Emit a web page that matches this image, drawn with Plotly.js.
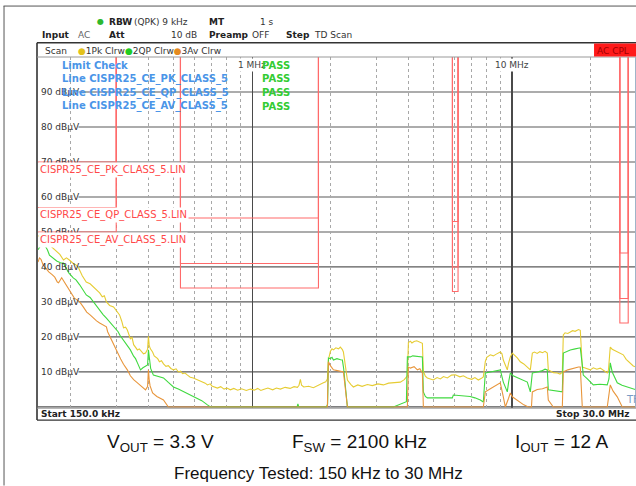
<!DOCTYPE html>
<html><head><meta charset="utf-8">
<script src="https://cdn.plot.ly/plotly-3.0.1.min.js"></script>
<style>html,body{margin:0;padding:0;background:#fff}#chart{width:636px;height:486px}</style>
</head><body><div id="chart"></div>
<script>
// ---- data (frequency in kHz, level in dBµV) ----
const pkTrace = [[150,49],[155,48.2],[158,47.4],[162,47.8],[166,46.3],[171,45.5],[177,44.3],[182,43.6],[188,42],[193,42.6],[198,42],[205,41],[210,40.6],[215,39.7],[222,37.5],[230,35.7],[238,35.2],[245,34.3],[252,33.3],[259,32.6],[265,31.5],[270,31.8],[275,30],[283,29],[293,28.6],[301,27.5],[309,26.3],[315,24.5],[320,22.6],[326,22.8],[331,22],[340,19.5],[345,19.9],[350,17.8],[356,17.2],[362,16.3],[368,16.6],[375,15.8],[382,15.2],[389,15.4],[396,16.5],[399,20.2],[402,17.5],[406,16.6],[414,15.7],[420,14.6],[425,14.2],[433,13.8],[440,12.9],[448,13.2],[456,12.3],[466,11.6],[476,11.8],[487,11],[498,10.6],[510,10.9],[520,10],[530,10.2],[540,9.5],[552,9.7],[564,9.1],[578,8.5],[594,8.3],[607,8.0],[620,7.5],[640,7.1],[660,6.8],[673,6.3],[690,6.6],[700,6],[718,5.6],[735,5.4],[757,5.8],[780,5.1],[800,5.4],[825,4.9],[850,5.3],[880,4.8],[910,5.2],[950,4.7],[985,5.1],[1020,4.8],[1050,5.3],[1080,4.7],[1105,5],[1150,5.4],[1200,4.9],[1240,5.4],[1285,5.1],[1340,5.6],[1400,5.3],[1450,5.8],[1494,5.6],[1515,6.2],[1534,7.9],[1550,6.2],[1580,5.7],[1650,5.9],[1721,5.5],[1800,6.1],[1880,6.9],[1920,7.2],[1948,8],[1966,13.5],[2001,15.9],[2030,16.6],[2055,16.3],[2100,16.9],[2150,16.6],[2185,17.1],[2225,16.4],[2245,15.7],[2280,12],[2326,7.7],[2400,6.4],[2453,5.7],[2550,6.3],[2650,5.9],[2777,6.4],[2900,6.1],[3050,6.6],[3199,6.3],[3350,6.8],[3500,6.9],[3718,7.1],[3850,7.8],[3888,8.3],[3957,8.9],[3993,18.4],[4063,18.8],[4120,18.3],[4200,18.7],[4300,18.9],[4400,18.5],[4520,18.2],[4560,10.2],[4640,8.8],[4724,8.3],[4850,8.0],[4981,7.7],[5150,8.4],[5300,8.0],[5450,8.7],[5640,8.3],[5850,9.1],[6051,9.2],[6300,8.6],[6500,8.9],[6731,8.3],[7000,7.9],[7200,8.4],[7421,7.7],[7600,8.1],[7756,8.6],[7895,13],[8000,14.2],[8252,14.9],[8476,14.6],[8700,15.1],[9016,15.7],[9150,15.2],[9259,13.4],[9425,12],[9592,10.6],[9700,12.5],[9851,14.3],[10028,15.4],[10300,14.6],[10481,14],[10762,12.9],[11100,12.3],[11452,11.4],[11763,10.6],[11973,15.4],[12200,15.7],[12500,15.3],[12800,15.8],[13100,15.5],[13400,15.9],[13672,15.4],[13793,10.6],[14100,10.2],[14418,9.8],[14938,9.7],[15300,9.4],[15617,9.9],[15755,20.6],[16000,21.2],[16400,21],[16760,21.4],[17100,21.8],[17500,21.6],[18024,22.1],[18313,21.9],[18641,11.4],[19000,11.2],[19500,10.9],[20010,10.6],[20550,11.2],[21200,10.8],[21855,11.1],[22500,10.4],[23254,9.7],[23500,10.5],[23882,17.1],[24300,16.5],[24800,16.2],[25410,15.7],[26100,15.3],[26800,14.9],[27500,13.6],[28510,12.6],[29280,11.7],[30000,11.4]];

const qpTrace = [[150,44.9],[153,46],[155,46.6],[159,46.3],[163,44.9],[166,43.4],[172,42.3],[177,41.7],[183,41.2],[188,41.1],[193,39.5],[197,38.3],[205,36.9],[210,36.3],[217,34.9],[224,33.5],[230,32],[238,31.3],[245,30],[252,28.9],[259,27.7],[267,26.4],[275,25.4],[285,24],[293,22.9],[300,22.1],[305,21.5],[310,20.5],[320,19],[330,17.6],[340,16.3],[350,14.5],[356,13.8],[362,12.6],[367,11.6],[372,10.6],[380,11.2],[388,11.6],[396,12],[399,16.3],[402,13.5],[407,11],[417,9.1],[430,8.9],[445,8.6],[456,8.3],[476,7],[498,5.7],[520,5.1],[540,4.5],[564,4],[590,3.3],[616,2.6],[640,1.8],[673,0.6],[691,0],[1490,0],[1500,0.9],[1512,0],[1930,0],[1952,0.8],[1966,14],[2000,13.8],[2030,14.2],[2055,13.4],[2120,13.8],[2190,13.5],[2225,13.4],[2250,11],[2326,0],[3496,0],[3820,1.1],[3923,1.5],[3957,14.3],[4063,14.3],[4150,14.6],[4300,14.5],[4420,14.4],[4520,14.3],[4560,4.3],[4640,3],[4724,2.6],[5300,2.7],[5893,2.6],[5945,3.4],[6400,3.1],[6900,3],[7200,2.6],[7554,2],[7756,1.4],[7895,9.7],[8252,10],[8700,10.4],[9016,10.6],[9259,7.1],[9425,5.5],[9592,4.3],[9700,7],[9851,9.7],[10100,8.9],[10481,8.3],[11000,7.6],[11452,7.1],[11763,4.3],[11973,9.7],[12500,10],[13000,10.3],[13400,10.8],[13672,10.6],[13793,4.9],[14600,4.6],[15617,4.3],[15755,15.4],[16200,15.8],[16760,16.3],[17500,16.6],[18313,16.9],[18641,12],[18803,9.1],[19500,8],[20550,6.3],[21800,6.5],[23254,6.3],[23600,8],[23882,12.6],[24300,10],[25410,6.9],[26500,6.2],[27770,5.7],[29000,5.3],[30000,4.9]];

const avTrace = [[150,41.4],[152,42.6],[154,42.2],[157,40.6],[161,39.6],[165,38.6],[170,37.8],[174,37.1],[178,35.7],[180,35.5],[185,36.9],[190,35.5],[197,34],[203,32.4],[207,31.1],[212,30.6],[217,30],[224,28.6],[231,27.1],[238,26.3],[245,25.4],[252,24.6],[259,24],[267,23.4],[275,22.9],[278,21.5],[285,19.8],[293,17.7],[303,15.4],[312,13.7],[320,12.2],[331,10.6],[340,8.9],[350,7.8],[362,6.9],[375,5.8],[389,4.9],[396,5.8],[399,10.6],[402,7.5],[405,6],[414,4],[430,3],[456,2],[466,1],[476,0],[1948,0],[1966,12.9],[2000,11.8],[2055,10.6],[2150,10.3],[2245,10],[2270,7],[2326,0],[3957,0],[3993,11.4],[4063,11.1],[4200,11.5],[4324,10.6],[4420,10.9],[4520,9.7],[4560,0],[7756,0],[7800,1.4],[7895,4.3],[8252,5.2],[8700,6.3],[9016,6.9],[9259,2.9],[9425,0],[9700,2.5],[9851,4],[10028,2.9],[10400,2],[10762,1.1],[11100,0.6],[11555,0],[11880,0],[11973,4.3],[12500,5],[13100,5.2],[13672,5.7],[13793,2],[14418,0],[15617,0],[15755,10],[16400,10.6],[17100,11],[18024,11.4],[18313,11.4],[18641,0],[23254,0],[23600,3],[23882,6.3],[24500,4.5],[25410,2.9],[26560,0],[30000,0]];

// CISPR25 class 5 limit lines (120 = off screen between bands)
const limFreq = [150,300,300,530,530,1800,1800,5900,5900,6200,6200,26000,26000,28000,28000,30000];
const limPK   = [70,70,120,120,54,54,120,120,53,53,120,120,44,44,120,120];
const limQP   = [57,57,120,120,41,41,120,120,40,40,120,120,31,31,120,120];
const limAV   = [50,50,120,120,34,34,120,120,33,33,120,120,24,24,120,120];

const levelTicks = [10,20,30,40,50,60,70,80,90];
const majorFreqs = [1000,10000];
const majorLabels = ['1 MHz','10 MHz'];
const minorFreqs = [200,300,400,500,600,700,800,900,2000,3000,4000,5000,6000,7000,8000,9000,20000];

// ---- geometry of the screen (pixels) ----
const L = 37.5, R = 636, T = 57, B = 408.4;
const W = R - L, H = B - T;
const X = px => (px - L) / W;
const Y = py => (B - py) / H;
const FONT = 'DejaVu Sans';

function ann(px, py, text, o) {
  return Object.assign({xref:'paper', yref:'paper', x:X(px), y:Y(py), text:text, showarrow:false,
    xanchor:'left', yanchor:'middle', borderpad:0,
    font:{family:FONT, size:9, color:'#333'}}, o || {});
}
function line(x0, y0, x1, y1, color, width, extra) {
  return Object.assign({type:'line', xref:'paper', yref:'paper', x0:X(x0), y0:Y(y0), x1:X(x1), y1:Y(y1),
    line:{color:color, width:width}}, extra || {});
}

const traces = [
  {x: limFreq, y: limPK, mode:'lines', line:{color:'#ff6a6a', width:1.1}, hoverinfo:'skip'},
  {x: limFreq, y: limQP, mode:'lines', line:{color:'#ff6a6a', width:1.1}, hoverinfo:'skip'},
  {x: limFreq, y: limAV, mode:'lines', line:{color:'#ff6a6a', width:1.1}, hoverinfo:'skip'},
  {x: pkTrace.map(p=>p[0]), y: pkTrace.map(p=>p[1]), mode:'lines', line:{color:'#e6cc33', width:1.1}},
  {x: qpTrace.map(p=>p[0]), y: qpTrace.map(p=>p[1]), mode:'lines', line:{color:'#3fd93f', width:1.1}},
  {x: avTrace.map(p=>p[0]), y: avTrace.map(p=>p[1]), mode:'lines', line:{color:'#e8963c', width:1.1}}
];

const shapes = [];
levelTicks.forEach(v => shapes.push({type:'line', xref:'paper', yref:'y', x0:X(78), x1:1, y0:v, y1:v,
  line:{color:'#5a5a5a', width:1.2}, layer:'below'}));
shapes.push({type:'line', xref:'paper', yref:'y', x0:0, x1:1, y0:0, y1:0, line:{color:'#555', width:1.2}, layer:'below'});
shapes.push(line(3, 6, 636, 6, '#555', 1));
shapes.push(line(3.5, 6, 3.5, 486, '#555', 1));
shapes.push(line(36.5, 42.7, 636, 42.7, '#333', 1.6));
shapes.push(line(36.5, 42.7, 36.5, 420.5, '#333', 1.6));
shapes.push(line(36.5, 420.5, 636, 420.5, '#333', 1.4));
shapes.push(line(36.5, 57, 636, 57, '#999', 1));
shapes.push(line(36.5, 408.6, 636, 408.6, '#999', 1));
shapes.push(line(635.5, 57, 635.5, 408, '#9fb4c8', 1));
shapes.push({type:'rect', xref:'paper', yref:'paper', x0:X(594), x1:X(636), y0:Y(56.5), y1:Y(43.5),
  fillcolor:'#ff1a1a', line:{width:0}});

const annotations = [];
annotations.push(ann(96, 21.5, '●', {font:{family:FONT, size:8, color:'#2eb82e'}}));
annotations.push(ann(108, 21.5, '<b>RBW</b>', {font:{family:FONT, size:9, color:'#222'}}));
annotations.push(ann(133, 21.5, '(QPK) 9 kHz'));
annotations.push(ann(208, 21.5, '<b>MT</b>', {font:{family:FONT, size:9, color:'#222'}}));
annotations.push(ann(259, 21.5, '1 s'));
annotations.push(ann(41, 35, '<b>Input</b>', {font:{family:FONT, size:9, color:'#222'}}));
annotations.push(ann(77, 35, 'AC', {font:{family:FONT, size:9, color:'#666'}}));
annotations.push(ann(108, 35, '<b>Att</b>', {font:{family:FONT, size:9, color:'#222'}}));
annotations.push(ann(170, 35, '10 dB'));
annotations.push(ann(208, 35, '<b>Preamp</b>', {font:{family:FONT, size:9, color:'#222'}}));
annotations.push(ann(251, 35, 'OFF'));
annotations.push(ann(285, 35, '<b>Step</b>', {font:{family:FONT, size:9, color:'#222'}}));
annotations.push(ann(313, 35, 'TD Scan'));
annotations.push(ann(44, 50.5, 'Scan'));
annotations.push(ann(77, 50.5, '<span style="color:#e3c21a">●</span>1Pk Clrw<span style="color:#22cc22">●</span>2QP Clrw<span style="color:#e58a1f">●</span>3Av Clrw'));
annotations.push(ann(596, 50.5, 'AC CPL', {font:{family:FONT, size:9, color:'#a00000'}}));
levelTicks.forEach(v => annotations.push({xref:'paper', yref:'y', x:X(40), y:v, text:v + ' dBµV',
  showarrow:false, xanchor:'left', yanchor:'middle', borderpad:0, font:{family:FONT, size:9, color:'#333'}}));
majorFreqs.forEach((f, i) => annotations.push({xref:'x', yref:'paper', x:Math.log10(f), y:Y(65.5),
  text:majorLabels[i], showarrow:false, xanchor:'center', yanchor:'middle', bgcolor:'#ffffff', borderpad:1,
  font:{family:FONT, size:9, color:'#444'}}));
const blue = {family:FONT, size:10, color:'#4a95e8'};
const lcRows = [['Limit Check',65.5],['Line CISPR25_CE_PK_CLASS_5',79],['Line CISPR25_CE_QP_CLASS_5',92.7],['Line CISPR25_CE_AV_CLASS_5',106.5]];
lcRows.forEach(r => {
  annotations.push(ann(61, r[1], '<b>' + r[0] + '</b>', {font:blue}));
  annotations.push(ann(261, r[1], '<b>PASS</b>', {font:{family:FONT, size:10, color:'#33cc33'}}));
});
const red = {family:FONT, size:10, color:'#ff4848'};
[['CISPR25_CE_PK_CLASS_5.LIN',170],['CISPR25_CE_QP_CLASS_5.LIN',215],['CISPR25_CE_AV_CLASS_5.LIN',240]].forEach(r =>
  annotations.push(ann(37, r[1], r[0], {font:red, bgcolor:'#ffffff', borderpad:1})));
annotations.push(ann(625, 400, 'TF', {font:{family:FONT, size:10, color:'#7a9cc6'}}));
annotations.push(ann(40, 414, '<b>Start 150.0 kHz</b>', {font:{family:FONT, size:9, color:'#222'}}));
annotations.push(ann(631, 414, '<b>Stop 30.0 MHz</b>', {xanchor:'right', font:{family:FONT, size:9, color:'#222'}}));
const cap1 = {family:'Liberation Sans', size:19, color:'#111'};
const cap2 = {family:'Liberation Sans', size:17, color:'#111'};
annotations.push(ann(160, 443, 'V<sub>OUT</sub> = 3.3 V', {xanchor:'center', font:cap1}));
annotations.push(ann(359, 443, 'F<sub>SW</sub> = 2100 kHz', {xanchor:'center', font:cap1}));
annotations.push(ann(561, 443, 'I<sub>OUT</sub> = 12 A', {xanchor:'center', font:cap1}));
annotations.push(ann(318, 474, 'Frequency Tested: 150 kHz to 30 MHz', {xanchor:'center', font:cap2}));

const layout = {
  width:636, height:486, autosize:false, showlegend:false,
  margin:{l:L, r:636-R, t:T, b:486-B, pad:0},
  paper_bgcolor:'#ffffff', plot_bgcolor:'#ffffff',
  xaxis:{type:'log', range:[Math.log10(150), Math.log10(30000)], showticklabels:false, ticks:'',
    zeroline:false, showline:false, tickmode:'array', tickvals:majorFreqs, showgrid:true,
    gridcolor:'#4a4a4a', gridwidth:1.2,
    minor:{tickmode:'array', tickvals:minorFreqs, showgrid:true, gridcolor:'#a8a8a8', griddash:'dot', gridwidth:1, ticks:''}},
  yaxis:{range:[-0.3, 100], showgrid:false, zeroline:false, showticklabels:false, ticks:'', showline:false},
  shapes:shapes, annotations:annotations
};
Plotly.newPlot('chart', traces, layout, {staticPlot:true, displayModeBar:false});
</script></body></html>
